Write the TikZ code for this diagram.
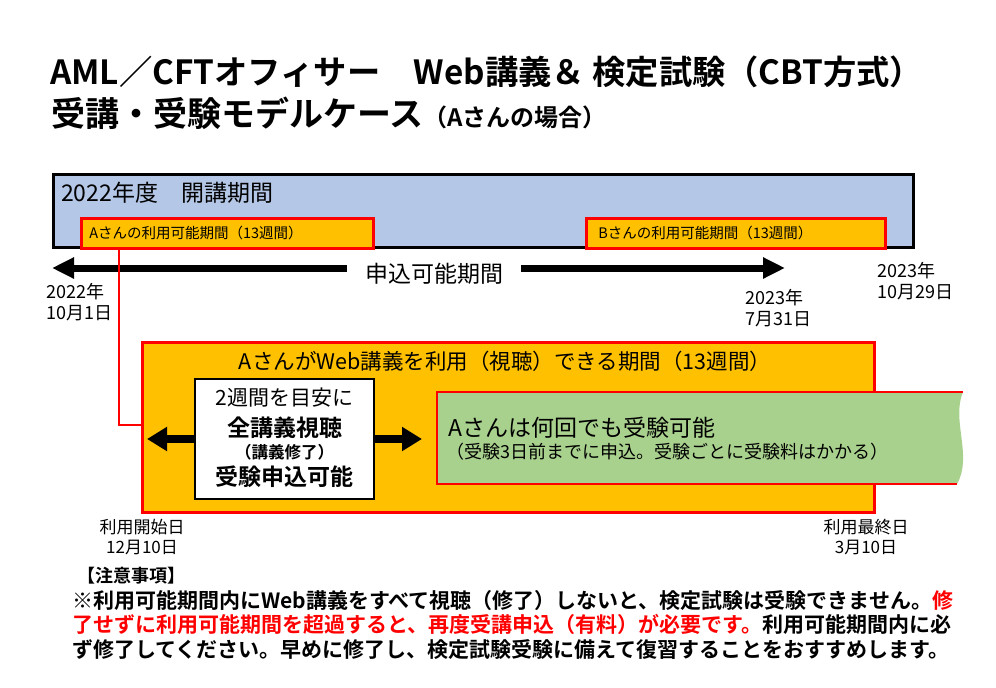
\documentclass[tikz,border=0pt]{standalone}
\usepackage{fontspec}
\setmainfont{Noto Sans CJK JP}[BoldFont={Noto Sans CJK JP Bold}]
\usetikzlibrary{arrows.meta,calc}
\definecolor{barblue}{HTML}{B4C7E7}
\definecolor{amber}{HTML}{FFC000}
\definecolor{sage}{HTML}{A9D18E}
\tikzset{
  every picture/.style={
    x=1pt, y=-1pt
  },
  fs/.style={font=\fontsize{#1}{#1}\selectfont},
  fsb/.style={font=\bfseries\fontsize{#1}{#1}\selectfont},
  datelbl/.style={
    font=\fontsize{18}{21}\selectfont, inner sep=0pt
  },
  termbar/.style={
    draw, line width=3pt, fill=barblue,
    inner sep=0pt, anchor=north west
  },
  usebox/.style={
    draw=red, line width=2.5pt, fill=amber,
    minimum height=30, inner xsep=8pt, inner ysep=0pt,
    anchor=north west, align=left, fs=14.5
  },
  bigarrow/.style={
    line width=7pt, -{Triangle[width=20pt, length=22pt]}
  },
  boxarrow/.style={
    line width=8pt, -{Triangle[width=23pt, length=20pt]}
  },
  redline/.style={draw=red, line width=2pt}
}

\begin{document}
\begin{tikzpicture}
  \useasboundingbox (0,0) rectangle (996,688);
  % title
  \node [fsb=33.3, anchor=west, inner sep=0pt] (title) at (50,72)
    {AML／CFTオフィサー　Web講義＆ 検定試験（CBT方式）};
  \node [anchor=west, inner sep=0pt, font=\bfseries] (subtitle) at (51,113)
    {{\fontsize{34}{34}\selectfont 受講・受験モデルケース}{\fontsize{24}{24}\selectfont （Aさんの場合）}};
  % term and usable periods
  \node [termbar, minimum width=860, minimum height=73] (term) at (52,173) {};
  \node [fs=23, anchor=west, inner sep=0pt] (termtxt) at (61,193) {2022年度　開講期間};
  \node [usebox, text width=276] (abox) at (80,217) {Aさんの利用可能期間（13週間）};
  \node [usebox, text width=275, inner xsep=12pt] (bbox) at (585,217) {Bさんの利用可能期間（13週間）};
  % application period
  \coordinate (applyL) at (52,268);
  \coordinate (applyR) at (785,268);
  \node [fs=23, inner xsep=18pt] (apply) at (434,274) {申込可能期間};
  \draw [bigarrow] (apply.west |- applyL) -- (applyL);
  \draw [bigarrow] (apply.east |- applyR) -- (applyR);
  \node [datelbl, align=left, anchor=west] (day1) at (46,302) {2022年\\10月1日};
  \node [datelbl, align=left, anchor=west] (day2) at (745,308) {2023年\\7月31日};
  \node [datelbl, align=left, anchor=west] (day3) at (877,281) {2023年\\10月29日};
  % viewing period of A
  \node [draw=red, line width=3pt, fill=amber, minimum width=732, minimum height=170,
    anchor=north west, inner sep=0pt] (period) at (141,341) {};
  \node [fs=21.5] (periodtxt) at (505,361) {AさんがWeb講義を利用（視聴）できる期間（13週間）};
  \coordinate (abend) at (119,425);
  \draw [redline] (abox.south -| abend) -- (abend) -- (abend -| period.west);
  % exam box
  \coordinate (examNW) at (437,392);
  \coordinate (examSW) at (437,484);
  \fill [sage] (examNW) -- (963,392) .. controls (951,420) and (973,456) .. (957,484)
    -- (examSW) -- cycle;
  \draw [redline, line width=2.5pt] (963,392) -- (examNW) -- (examSW) -- (957,484);
  \node [fs=23, anchor=west, inner sep=0pt] (examtxt) at (448,428) {Aさんは何回でも受験可能};
  \node [fs=18, anchor=west, inner sep=0pt] (examnote) at (446,452)
    {（受験3日前までに申込。受験ごとに受験料はかかる）};
  % guide box
  \node [draw, line width=2pt, fill=white, minimum width=179, minimum height=120,
    anchor=north west, inner sep=0pt] (guide) at (194,378) {};
  \node [fs=21] (guide1) at (guide.center |- 0,398) {2週間を目安に};
  \node [fsb=23] (guide2) at (guide.center |- 0,428) {全講義視聴};
  \node [fsb=16.5] (guide3) at (guide.center |- 0,452) {（講義修了）};
  \node [fsb=23] (guide4) at (guide.center |- 0,477) {受験申込可能};
  \draw [boxarrow, shorten >=6pt] (guide.west) -- (guide.west -| period.west);
  \draw [boxarrow, shorten >=15pt] (guide.east) -- (guide.east -| examNW);
  \node [datelbl, font=\fontsize{17}{20}\selectfont, align=center] (startday) at (142,537)
    {利用開始日\\12月10日};
  \node [datelbl, font=\fontsize{17}{20}\selectfont, align=center] (endday) at (866,537)
    {利用最終日\\3月10日};
  % notes
  \node [fsb=18, anchor=west, inner sep=0pt] (notehead) at (77,576) {【注意事項】};
  \node [font=\bfseries\fontsize{21}{24.5}\selectfont, anchor=north west, inner sep=0pt,
    align=left] (notes) at (72,590)
    {※利用可能期間内にWeb講義をすべて視聴（修了）しないと、検定試験は受験できません。\textcolor{red}{修}\\
     \textcolor{red}{了せずに利用可能期間を超過すると、再度受講申込（有料）が必要です。}利用可能期間内に必\\
     ず修了してください。早めに修了し、検定試験受験に備えて復習することをおすすめします。};
\end{tikzpicture}
\end{document}
